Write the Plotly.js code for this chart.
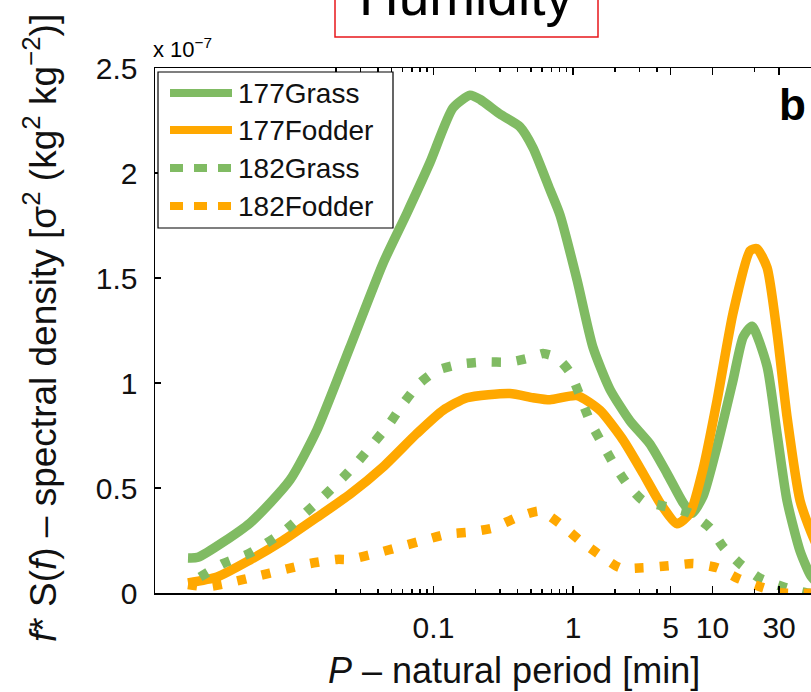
<!DOCTYPE html>
<html>
<head>
<meta charset="utf-8">
<script src="https://cdn.plot.ly/plotly-3.0.1.min.js"></script>
<style>html,body{margin:0;padding:0;background:#fff;}#chart{width:811px;height:692px;}</style>
</head>
<body>
<div id="chart"></div>
<script>
// ---- data (period in minutes, spectral density in units of 1e-7) ----
const seriesNames = ["177Grass", "177Fodder", "182Grass", "182Fodder"];

const p177Grass = [0.00174, 0.00205, 0.00484, 0.00936, 0.0146, 0.0252, 0.0435, 0.0646, 0.0944, 0.138, 0.183, 0.216, 0.300, 0.417, 0.517, 0.684, 0.807, 1.07, 1.39, 1.84, 2.56, 3.56, 4.72, 6.15, 7.13, 8.55, 10.8, 14.0, 16.6, 19.2, 24.6, 29.0, 34.2, 42.4, 50.8, 60];
const v177Grass = [0.167, 0.17, 0.333, 0.538, 0.776, 1.17, 1.57, 1.81, 2.05, 2.31, 2.37, 2.35, 2.28, 2.22, 2.12, 1.92, 1.80, 1.49, 1.17, 0.97, 0.82, 0.71, 0.57, 0.43, 0.38, 0.46, 0.70, 1.01, 1.22, 1.27, 1.08, 0.76, 0.44, 0.20, 0.08, 0.03];

const p177Fodder = [0.00174, 0.00281, 0.00484, 0.00834, 0.0146, 0.0252, 0.0435, 0.0762, 0.117, 0.174, 0.353, 0.517, 0.684, 1.07, 1.56, 2.28, 3.18, 4.20, 5.57, 6.90, 8.55, 10.8, 14.0, 18.6, 20.8, 24.6, 29.0, 34.2, 42.4, 50.8, 60];
const v177Fodder = [0.048, 0.076, 0.157, 0.25, 0.36, 0.47, 0.60, 0.76, 0.87, 0.93, 0.95, 0.93, 0.92, 0.94, 0.87, 0.73, 0.57, 0.43, 0.33, 0.38, 0.59, 0.92, 1.33, 1.63, 1.64, 1.55, 1.24, 0.84, 0.44, 0.29, 0.18];

const p182Grass = [0.00212, 0.0031, 0.00484, 0.00834, 0.0146, 0.0225, 0.0283, 0.0368, 0.0488, 0.0604, 0.0800, 0.106, 0.155, 0.226, 0.353, 0.492, 0.610, 0.768, 0.952, 1.32, 1.56, 1.94, 2.44, 3.18, 4.72, 6.90, 9.59, 11.9, 15.7, 21.9, 32.0, 47.6, 60];
const v182Grass = [0.076, 0.14, 0.19, 0.29, 0.43, 0.55, 0.62, 0.71, 0.81, 0.90, 1.00, 1.06, 1.09, 1.10, 1.10, 1.12, 1.14, 1.12, 1.05, 0.82, 0.73, 0.62, 0.52, 0.44, 0.41, 0.38, 0.31, 0.22, 0.14, 0.07, 0.03, 0.0, 0.0];

const p182Fodder = [0.00174, 0.00238, 0.00348, 0.00543, 0.00834, 0.013, 0.0203, 0.0252, 0.0394, 0.0575, 0.0841, 0.125, 0.183, 0.267, 0.397, 0.580, 0.807, 1.12, 1.49, 2.17, 3.18, 4.96, 7.25, 10.8, 15.2, 21.9, 32.0, 60];
const v182Fodder = [0.04, 0.03, 0.05, 0.08, 0.11, 0.14, 0.16, 0.16, 0.19, 0.22, 0.25, 0.28, 0.29, 0.31, 0.36, 0.39, 0.33, 0.25, 0.19, 0.12, 0.12, 0.13, 0.14, 0.12, 0.07, 0.03, 0.0, 0.0];

const xTickVals = [0.1, 1, 5, 10, 30];
const xTickText = ["0.1", "1", "5", "10", "30"];
const xMinorVals = [0.02, 0.03, 0.04, 0.05, 0.06, 0.07, 0.08, 0.09, 0.2, 0.3, 0.4, 0.5, 0.6, 0.7, 0.8, 0.9, 2, 3, 4, 20];
const yTickVals = [0, 0.5, 1, 1.5, 2, 2.5];
const yTickText = ["0", "0.5", "1", "1.5", "2", "2.5"];

// ---- styling ----
const GREEN = "#80bb63";
const ORANGE = "#ffa800";
const FONT = "Liberation Sans, Arial, Helvetica, sans-serif";
const LW = 9.5;
const DOT = "9px,16px";

const styles = [
  {color: GREEN, dash: "solid"},
  {color: ORANGE, dash: "solid"},
  {color: GREEN, dash: DOT},
  {color: ORANGE, dash: DOT}
];
const xs = [p177Grass, p177Fodder, p182Grass, p182Fodder];
const ys = [v177Grass, v177Fodder, v182Grass, v182Fodder];

const traces = seriesNames.map((name, i) => ({
  type: "scatter",
  mode: "lines",
  name: name,
  x: xs[i],
  y: ys[i],
  line: {color: styles[i].color, width: LW, dash: styles[i].dash, shape: "spline", smoothing: 0.6},
  showlegend: false,
  hoverinfo: "skip"
}));

// plot-area pixel frame
const L = 155, R = 811, T = 68, B = 593;
const fx = px => (px - L) / (R - L);
const fy = py => (B - py) / (B - T);

const shapes = [];
const annotations = [];

// legend (drawn manually to match the long line samples)
shapes.push({type: "rect", xref: "paper", yref: "paper", x0: fx(158), x1: fx(393), y0: fy(228), y1: fy(72),
  line: {color: "#000", width: 1.2}, fillcolor: "rgba(255,255,255,1)", layer: "above"});
const legRows = [93, 130, 168, 206];
const legDash = ["solid", "solid", "13px,11px", "13px,11px"];
seriesNames.forEach((name, i) => {
  shapes.push({type: "line", xref: "paper", yref: "paper", x0: fx(170), x1: fx(232), y0: fy(legRows[i]), y1: fy(legRows[i]),
    line: {color: styles[i].color, width: 8, dash: legDash[i]}, layer: "above"});
  annotations.push({xref: "paper", yref: "paper", x: fx(236), y: fy(legRows[i]), xanchor: "left", yanchor: "middle",
    text: name, showarrow: false, font: {family: FONT, size: 28, color: "#111"}});
});

// title box "Humidity"
shapes.push({type: "rect", xref: "paper", yref: "paper", x0: fx(335), x1: fx(598), y0: fy(37), y1: fy(-20),
  line: {color: "#e8171b", width: 1.5}, fillcolor: "rgba(0,0,0,0)"});
annotations.push({xref: "paper", yref: "paper", x: fx(466), y: fy(-4), xanchor: "center", yanchor: "middle",
  text: "Humidity", showarrow: false, font: {family: FONT, size: 55, color: "#000"}});

// exponent label
annotations.push({xref: "paper", yref: "paper", x: fx(151), y: fy(48), xanchor: "left", yanchor: "middle",
  text: "x 10<sup>−7</sup>", showarrow: false, font: {family: FONT, size: 22, color: "#000"}});

// panel letter
annotations.push({xref: "paper", yref: "paper", x: fx(792), y: fy(104), xanchor: "center", yanchor: "middle",
  text: "<b>b</b>", showarrow: false, font: {family: FONT, size: 44, color: "#000"}});

// axis titles
annotations.push({xref: "paper", yref: "paper", x: fx(514), y: fy(670), xanchor: "center", yanchor: "middle",
  text: "<i>P</i> – natural period [min]", showarrow: false, font: {family: FONT, size: 36, color: "#111"}});
annotations.push({xref: "paper", yref: "paper", x: fx(40), y: fy(328), xanchor: "center", yanchor: "middle",
  textangle: -90, text: "<i>f</i>* S(<i>f</i>) – spectral density [σ<sup>2</sup> (kg<sup>2</sup> kg<sup>−2</sup>)]",
  showarrow: false, font: {family: FONT, size: 37, color: "#111"}});

const layout = {
  width: 811, height: 692,
  margin: {l: L, r: 811 - R, t: T, b: 692 - B, pad: 0},
  paper_bgcolor: "#fff", plot_bgcolor: "#fff",
  showlegend: false,
  font: {family: FONT, color: "#111"},
  xaxis: {
    type: "log", range: [-2.996, 1.706],
    tickmode: "array", tickvals: xTickVals, ticktext: xTickText,
    ticks: "inside", ticklen: 7, tickwidth: 1.3, tickcolor: "#000",
    minor: {tickmode: "array", tickvals: xMinorVals, ticks: "inside", ticklen: 4, tickwidth: 1.3, tickcolor: "#000", showgrid: false},
    showline: true, linecolor: "#000", linewidth: 1.5, mirror: "ticks",
    showgrid: false, zeroline: false,
    tickfont: {family: FONT, size: 30, color: "#111"}, ticklabelstandoff: 7
  },
  yaxis: {
    range: [0, 2.5],
    tickmode: "array", tickvals: yTickVals, ticktext: yTickText,
    ticks: "inside", ticklen: 6, tickwidth: 1.3, tickcolor: "#000",
    showline: true, linecolor: "#000", linewidth: 1.5, mirror: false,
    showgrid: false, zeroline: false,
    tickfont: {family: FONT, size: 30, color: "#111"}, ticklabelstandoff: 10
  },
  shapes: shapes,
  annotations: annotations
};

Plotly.newPlot("chart", traces, layout, {displayModeBar: false, staticPlot: true});
</script>
</body>
</html>
